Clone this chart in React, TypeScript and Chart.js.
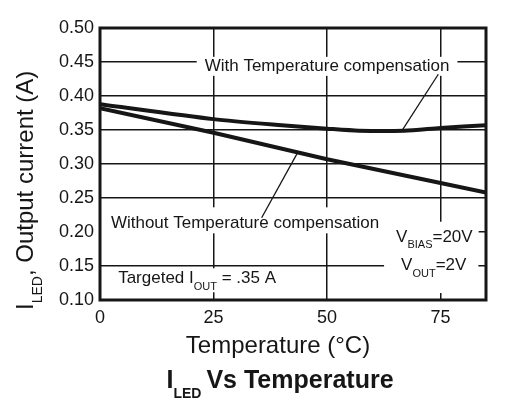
import { useEffect, useRef } from "react";
import { Chart, registerables } from "chart.js";

Chart.register(...registerables);

// temperature (°C) and output current (A)
const withCompTemp = [0, 25, 40, 50, 57, 67, 75, 85];
const withCompCurrent = [0.388, 0.366, 0.357, 0.352, 0.349, 0.349, 0.353, 0.357];
const withoutCompTemp = [0, 25, 50, 75, 85];
const withoutCompCurrent = [0.382, 0.346, 0.307, 0.272, 0.258];

const xTicks = [0, 25, 50, 75];
const xTickLabels = ["0", "25", "50", "75"];
const yTicks = [0.1, 0.15, 0.2, 0.25, 0.3, 0.35, 0.4, 0.45, 0.5];
const yTickLabels = ["0.10", "0.15", "0.20", "0.25", "0.30", "0.35", "0.40", "0.45", "0.50"];

const FONT = "'Liberation Sans', Arial, Helvetica, sans-serif";
const INK = "#161616";

type Part = { t: string; sub?: boolean };

// text notes inside the plot, anchored in data units; pad = white box [top, right, bottom, left]
const notes: { parts: Part[]; x: number; y: number; align: "left" | "center"; pad: number[] }[] = [
  { parts: [{ t: "With Temperature compensation" }], x: 50, y: 0.437, align: "center", pad: [14, 8, 5, 8] },
  { parts: [{ t: "Without Temperature compensation" }], x: 2.4, y: 0.2054, align: "left", pad: [21, 9, 5, 11] },
  { parts: [{ t: "Targeted I" }, { t: "OUT", sub: true }, { t: " = .35 A" }], x: 4.0, y: 0.1246, align: "left", pad: [15, 10, 9, 18] },
  { parts: [{ t: "V" }, { t: "BIAS", sub: true }, { t: "=20V" }], x: 65.2, y: 0.1857, align: "left", pad: [20, 6, 15, 13] },
  { parts: [{ t: "V" }, { t: "OUT", sub: true }, { t: "=2V" }], x: 66.3, y: 0.1441, align: "left", pad: [14, 12, 23, 17] },
];

const leaders = [
  { from: [74.5, 0.432], to: [66.5, 0.349] },
  { from: [35.6, 0.221], to: [43.7, 0.319] },
];

const measureParts = (ctx: CanvasRenderingContext2D, parts: Part[], size: number, subSize: number, weight: string) => {
  let w = 0;
  parts.forEach((p) => {
    ctx.font = `${weight} ${p.sub ? subSize : size}px ${FONT}`;
    w += ctx.measureText(p.t).width;
  });
  return w;
};

const drawParts = (
  ctx: CanvasRenderingContext2D,
  parts: Part[],
  x: number,
  y: number,
  size: number,
  subSize: number,
  shift: number,
  weight: string,
  align: "left" | "center"
) => {
  const w = measureParts(ctx, parts, size, subSize, weight);
  let cx = align === "center" ? x - w / 2 : x;
  ctx.textAlign = "left";
  ctx.textBaseline = "alphabetic";
  ctx.fillStyle = INK;
  parts.forEach((p) => {
    ctx.font = `${weight} ${p.sub ? subSize : size}px ${FONT}`;
    ctx.fillText(p.t, cx, p.sub ? y + shift : y);
    cx += ctx.measureText(p.t).width;
  });
};

const notesPlugin = {
  id: "notes",
  beforeDatasetsDraw(chart: any) {
    const { ctx, scales } = chart;
    ctx.save();
    ctx.fillStyle = "#ffffff";
    notes.forEach((n) => {
      const w = measureParts(ctx, n.parts, 17, 11, "normal");
      const px = scales.x.getPixelForValue(n.x);
      const py = scales.y.getPixelForValue(n.y);
      const left = n.align === "center" ? px - w / 2 : px;
      ctx.fillRect(left - n.pad[3], py - n.pad[0], w + n.pad[1] + n.pad[3], n.pad[0] + n.pad[2]);
    });
    ctx.restore();
  },
  afterDatasetsDraw(chart: any) {
    const { ctx, scales, chartArea } = chart;
    ctx.save();
    notes.forEach((n) => {
      const px = scales.x.getPixelForValue(n.x);
      const py = scales.y.getPixelForValue(n.y);
      drawParts(ctx, n.parts, px, py, 17, 11, 6.5, "normal", n.align);
    });
    ctx.strokeStyle = INK;
    ctx.lineWidth = 1.3;
    leaders.forEach((l) => {
      ctx.beginPath();
      ctx.moveTo(scales.x.getPixelForValue(l.from[0]), scales.y.getPixelForValue(l.from[1]));
      ctx.lineTo(scales.x.getPixelForValue(l.to[0]), scales.y.getPixelForValue(l.to[1]));
      ctx.stroke();
    });
    ctx.lineWidth = 3;
    ctx.strokeRect(chartArea.left, chartArea.top, chartArea.right - chartArea.left, chartArea.bottom - chartArea.top);

    // axis titles and chart title
    drawParts(ctx, [{ t: "Temperature (°C)" }], 278, 353, 24, 14, 9, "normal", "center");
    drawParts(ctx, [{ t: "I" }, { t: "LED", sub: true }, { t: "\u2009Vs Temperature" }], 280, 388, 25, 14, 10, "bold", "center");
    ctx.translate(33, 310);
    ctx.rotate(-Math.PI / 2);
    drawParts(ctx, [{ t: "I" }, { t: "LED", sub: true }, { t: ", Output current (A)" }], 0, 0, 24, 14, 9, "normal", "left");
    ctx.restore();
  },
};

const App = () => {
  const canvasRef = useRef<HTMLCanvasElement | null>(null);

  useEffect(() => {
    if (!canvasRef.current) return;

    const chart = new Chart(canvasRef.current, {
      type: "line",
      data: {
        datasets: [
          {
            label: "With Temperature compensation",
            data: withCompTemp.map((t, i) => ({ x: t, y: withCompCurrent[i] })),
            borderColor: INK,
            borderWidth: 4,
            pointRadius: 0,
            tension: 0.25,
          },
          {
            label: "Without Temperature compensation",
            data: withoutCompTemp.map((t, i) => ({ x: t, y: withoutCompCurrent[i] })),
            borderColor: INK,
            borderWidth: 4,
            pointRadius: 0,
          },
        ],
      },
      options: {
        animation: false,
        responsive: true,
        maintainAspectRatio: false,
        layout: { padding: { top: 28, right: 40, left: 0, bottom: 0 } },
        plugins: { legend: { display: false }, tooltip: { enabled: false } },
        scales: {
          x: {
            type: "linear",
            min: 0,
            max: 85,
            afterFit: (s: any) => {
              s.height = 105;
            },
            afterBuildTicks: (s: any) => {
              s.ticks = xTicks.map((v) => ({ value: v }));
            },
            border: { display: false },
            grid: { color: INK, lineWidth: 1.5, drawTicks: false },
            ticks: {
              autoSkip: false,
              maxRotation: 0,
              padding: 7,
              color: INK,
              font: { family: FONT, size: 18 },
              callback: (_v: any, i: number) => xTickLabels[i],
            },
          },
          y: {
            type: "linear",
            min: 0.1,
            max: 0.5,
            afterFit: (s: any) => {
              s.width = 100;
            },
            afterBuildTicks: (s: any) => {
              s.ticks = yTicks.map((v) => ({ value: v }));
            },
            border: { display: false },
            grid: { color: INK, lineWidth: 1.5, drawTicks: false },
            ticks: {
              autoSkip: false,
              padding: 6,
              color: INK,
              font: { family: FONT, size: 18 },
              callback: (_v: any, i: number) => yTickLabels[i],
            },
          },
        },
      },
      plugins: [notesPlugin],
    });

    return () => {
      chart.destroy();
    };
  }, []);

  return (
    <div style={{ position: "fixed", left: 0, top: 0, width: 526, height: 405, background: "#fff" }}>
      <canvas ref={canvasRef}></canvas>
    </div>
  );
};

export default App;
